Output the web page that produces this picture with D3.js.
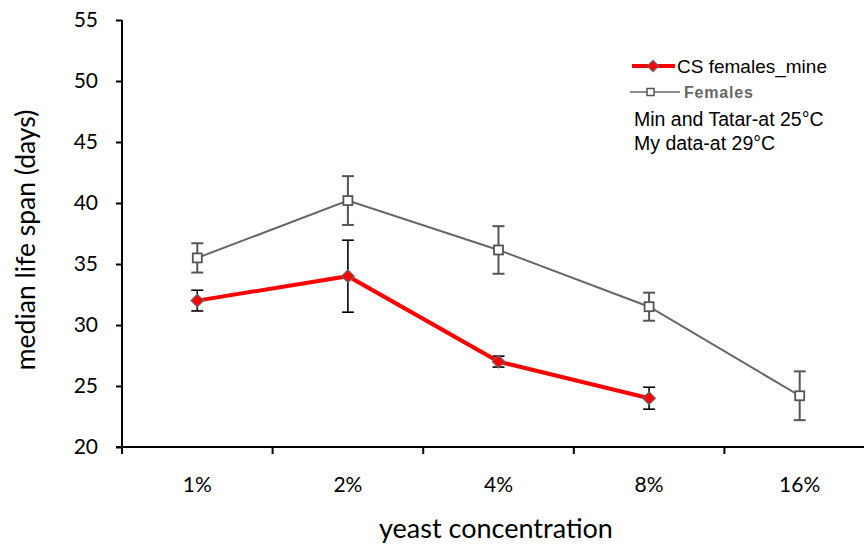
<!DOCTYPE html>
<html>
<head>
<meta charset="utf-8">
<script src="https://cdn.jsdelivr.net/npm/d3@7"></script>
<style>
  body { margin: 0; background: #fff; }
  svg { display: block; }
</style>
</head>
<body>
<svg id="chart" width="864" height="547"></svg>
<script>
var categories = ["1%", "2%", "4%", "8%", "16%"];
var mineValues = [32, 34, 27, 24];
var mineErrors = [0.85, 2.95, 0.45, 0.9];
var femaleValues = [35.5, 40.2, 36.15, 31.5, 24.2];
var femaleErrors = [1.2, 2.0, 1.95, 1.15, 2.0];
var yTicks = [20, 25, 30, 35, 40, 45, 50, 55];

var svg = d3.select("#chart");
var font = "Lato, 'Open Sans', sans-serif";
var arial = "'Liberation Sans', Arial, sans-serif";

var x = d3.scaleBand().domain(categories).range([122, 875]);
var y = d3.scaleLinear().domain([20, 55]).range([447, 20]);

//axes
var yAxis = svg.append("g")
    .attr("transform", "translate(122,0)")
    .call(d3.axisLeft(y).tickValues(yTicks).tickSize(6).tickPadding(18));
yAxis.select(".domain").attr("stroke-width", 2).attr("d", "M0,20V447");
yAxis.selectAll(".tick line").attr("stroke-width", 2);
yAxis.selectAll("text").attr("font-family", font).attr("font-size", 21).attr("fill", "#000");

var xAxis = svg.append("g")
    .attr("transform", "translate(0,447)")
    .call(d3.axisBottom(x).tickSize(0).tickPadding(30));
xAxis.select(".domain").attr("stroke-width", 2).attr("d", "M116,0H875");
xAxis.selectAll("text").attr("font-family", font).attr("font-size", 21).attr("fill", "#000");
//tick marks sit between categories
xAxis.selectAll(".bound")
    .data(categories)
    .enter()
    .append("line")
    .attr("x1", d => x(d))
    .attr("x2", d => x(d))
    .attr("y1", 0)
    .attr("y2", 7)
    .attr("stroke", "#000")
    .attr("stroke-width", 2);

svg.append("text")
    .attr("transform", "translate(35,240) rotate(-90)")
    .attr("text-anchor", "middle")
    .attr("font-family", font)
    .attr("font-size", 26.5)
    .text("median life span (days)");
svg.append("text")
    .attr("x", 496)
    .attr("y", 538)
    .attr("text-anchor", "middle")
    .attr("font-family", font)
    .attr("font-size", 27)
    .text("yeast concentration");

function cx(i) { return x(categories[i]) + x.bandwidth() / 2; }
var line = d3.line().x((d, i) => cx(i)).y(d => y(d));

function errorBars(values, errors, color, width) {
    var g = svg.append("g").attr("stroke", color).attr("stroke-width", width);
    values.forEach((v, i) => {
        var e = errors[i];
        g.append("line").attr("x1", cx(i)).attr("x2", cx(i)).attr("y1", y(v + e)).attr("y2", y(v - e));
        g.append("line").attr("x1", cx(i) - 6).attr("x2", cx(i) + 6).attr("y1", y(v + e)).attr("y2", y(v + e));
        g.append("line").attr("x1", cx(i) - 6).attr("x2", cx(i) + 6).attr("y1", y(v - e)).attr("y2", y(v - e));
    });
}

//Females series (gray)
errorBars(femaleValues, femaleErrors, "#555", 2);
svg.append("path")
    .datum(femaleValues)
    .attr("fill", "none")
    .attr("stroke", "#666")
    .attr("stroke-width", 2)
    .attr("d", line);
svg.selectAll(".sq")
    .data(femaleValues)
    .enter()
    .append("rect")
    .attr("x", (d, i) => cx(i) - 4.5)
    .attr("y", d => y(d) - 4.5)
    .attr("width", 9)
    .attr("height", 9)
    .attr("fill", "#fff")
    .attr("stroke", "#555")
    .attr("stroke-width", 1.8);

//CS females_mine (red)
errorBars(mineValues, mineErrors, "#000", 1.6);
svg.append("path")
    .datum(mineValues)
    .attr("fill", "none")
    .attr("stroke", "#ff0000")
    .attr("stroke-width", 4)
    .attr("d", line);
var diamond = d3.symbol().type(d3.symbolDiamond2).size(100);
svg.selectAll(".dm")
    .data(mineValues)
    .enter()
    .append("path")
    .attr("d", diamond)
    .attr("transform", (d, i) => `translate(${cx(i)},${y(d)})`)
    .attr("fill", "#ff0000")
    .attr("stroke", "#666")
    .attr("stroke-width", 1.2);

//legend
var lg = svg.append("g");
lg.append("line").attr("x1", 632).attr("x2", 675).attr("y1", 66).attr("y2", 66)
    .attr("stroke", "#ff0000").attr("stroke-width", 4);
lg.append("path").attr("d", d3.symbol().type(d3.symbolDiamond2).size(80)).attr("transform", "translate(653,66)")
    .attr("fill", "#ff0000").attr("stroke", "#666").attr("stroke-width", 1.2);
lg.append("text").attr("x", 677).attr("y", 73).attr("font-family", arial)
    .attr("font-size", 19).text("CS females_mine");
lg.append("line").attr("x1", 630).attr("x2", 680).attr("y1", 92).attr("y2", 92)
    .attr("stroke", "#666").attr("stroke-width", 1.5);
lg.append("rect").attr("x", 647).attr("y", 88.5).attr("width", 7).attr("height", 7)
    .attr("fill", "#fff").attr("stroke", "#555").attr("stroke-width", 1.5);
lg.append("text").attr("x", 684).attr("y", 98).attr("font-family", arial)
    .attr("font-size", 16).attr("font-weight", "bold").attr("letter-spacing", 0.8)
    .attr("fill", "#666").text("Females");
lg.append("text").attr("x", 634).attr("y", 126).attr("font-family", arial)
    .attr("font-size", 19.5).text("Min and Tatar-at 25°C");
lg.append("text").attr("x", 634).attr("y", 150).attr("font-family", arial)
    .attr("font-size", 19.5).text("My data-at 29°C");
</script>
</body>
</html>
